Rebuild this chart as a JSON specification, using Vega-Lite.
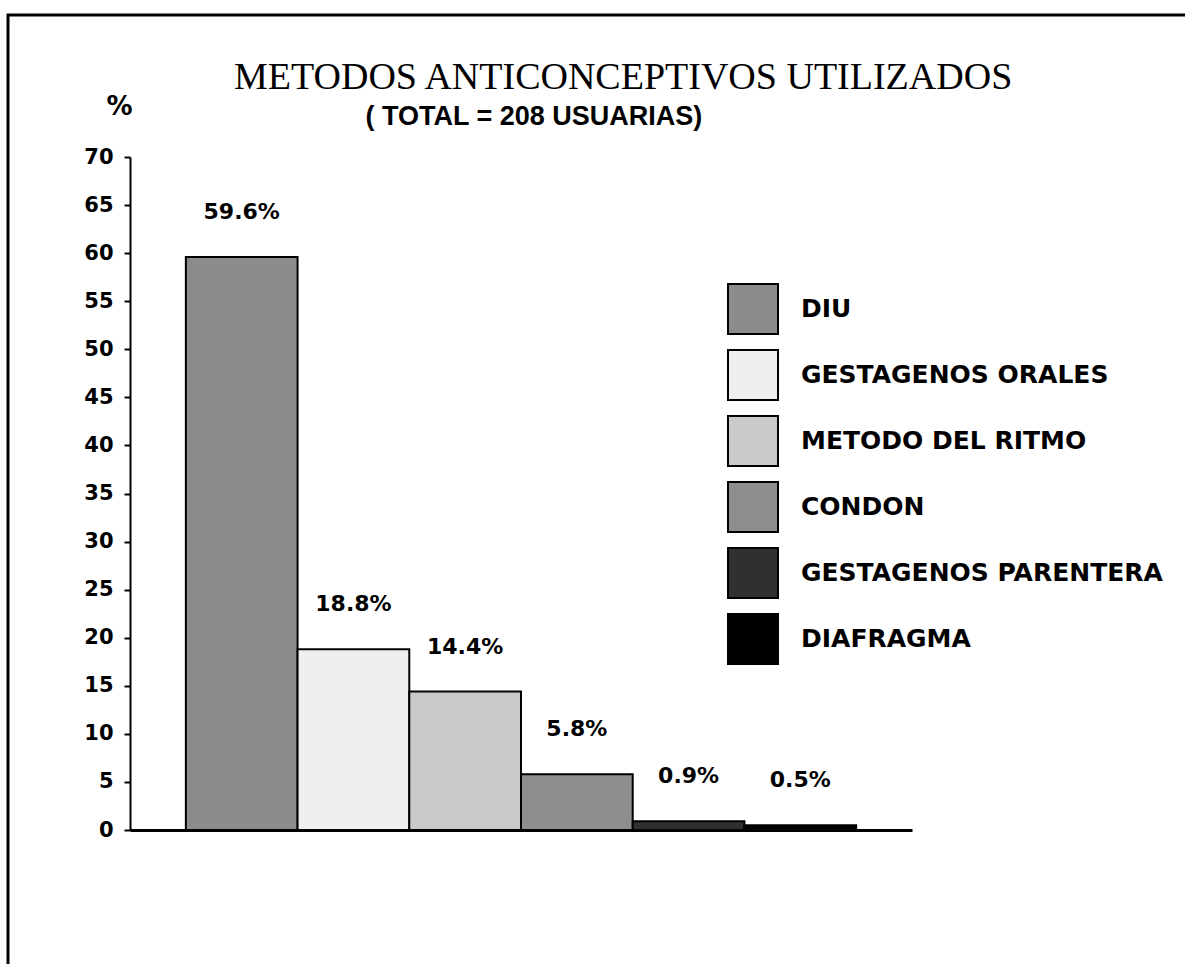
{
  "$schema": "https://vega.github.io/schema/vega-lite/v6.json",
  "width": 782,
  "height": 673,
  "autosize": {"type": "none"},
  "padding": {"left": 130, "top": 157, "right": 273, "bottom": 134},
  "background": "white",
  "title": {
    "text": "METODOS ANTICONCEPTIVOS UTILIZADOS",
    "anchor": "start",
    "frame": "group",
    "dx": 104,
    "offset": -83,
    "font": "Liberation Serif",
    "fontSize": 38,
    "fontWeight": "normal",
    "color": "black"
  },
  "data": {
    "values": [
      {"metodo": "DIU", "pct": 59.6, "label": "59.6%"},
      {"metodo": "GESTAGENOS ORALES", "pct": 18.8, "label": "18.8%"},
      {"metodo": "METODO DEL RITMO", "pct": 14.4, "label": "14.4%"},
      {"metodo": "CONDON", "pct": 5.8, "label": "5.8%"},
      {"metodo": "GESTAGENOS PARENTERA", "pct": 0.9, "label": "0.9%"},
      {"metodo": "DIAFRAGMA", "pct": 0.5, "label": "0.5%"}
    ]
  },
  "encoding": {
    "x": {
      "field": "metodo",
      "type": "nominal",
      "sort": null,
      "scale": {"paddingInner": 0, "paddingOuter": 0.5},
      "axis": {
        "labels": false,
        "ticks": false,
        "domainColor": "black",
        "domainWidth": 3,
        "title": "( TOTAL = 208 USUARIAS)",
        "titleX": 235,
        "titleY": -706,
        "titleAlign": "left",
        "titleBaseline": "alphabetic",
        "titleAnchor": null,
        "titleFont": "Liberation Sans",
        "titleFontSize": 27,
        "titleFontWeight": "bold",
        "titleColor": "black"
      }
    },
    "y": {
      "field": "pct",
      "type": "quantitative",
      "scale": {"domain": [0, 70], "nice": false},
      "axis": {
        "values": [0, 5, 10, 15, 20, 25, 30, 35, 40, 45, 50, 55, 60, 65, 70],
        "grid": false,
        "domainColor": "black",
        "domainWidth": 2,
        "tickColor": "black",
        "tickWidth": 2,
        "tickSize": 6,
        "labelFont": "DejaVu Sans",
        "labelFontWeight": "bold",
        "labelFontSize": 21,
        "labelColor": "black",
        "labelPadding": 11,
        "title": "%",
        "titleAngle": 0,
        "titleX": -11,
        "titleY": -51,
        "titleAlign": "center",
        "titleBaseline": "middle",
        "titleFont": "DejaVu Sans",
        "titleFontWeight": "bold",
        "titleFontSize": 26,
        "titleColor": "black"
      }
    }
  },
  "layer": [
    {
      "mark": {"type": "bar", "stroke": "black", "strokeWidth": 2, "opacity": 1},
      "encoding": {
        "color": {
          "field": "metodo",
          "type": "nominal",
          "sort": null,
          "scale": {
            "domain": ["DIU", "GESTAGENOS ORALES", "METODO DEL RITMO", "CONDON", "GESTAGENOS PARENTERA", "DIAFRAGMA"],
            "range": ["#8c8c8c", "#efefef", "#cacaca", "#8e8e8e", "#303030", "#000000"]
          },
          "legend": {
            "orient": "none",
            "legendX": 597,
            "legendY": 126,
            "title": null,
            "symbolType": "square",
            "symbolSize": 2500,
            "symbolStrokeColor": "black",
            "symbolStrokeWidth": 2,
            "symbolOpacity": 1,
            "labelFont": "DejaVu Sans",
            "labelFontWeight": "bold",
            "labelFontSize": 25,
            "labelColor": "black",
            "labelOffset": 22,
            "rowPadding": 8,
            "labelLimit": 800
          }
        },
        "strokeDash": {
          "datum": " ",
          "type": "nominal",
          "legend": {
            "orient": "none",
            "legendX": -122,
            "legendY": -142,
            "title": null,
            "padding": 680,
            "strokeColor": "black",
            "symbolOpacity": 0,
            "symbolStrokeWidth": 0,
            "labelOpacity": 0,
            "encode": {"legend": {"update": {"strokeWidth": {"value": 3}}}}
          }
        }
      }
    },
    {
      "mark": {"type": "text", "font": "DejaVu Sans", "fontWeight": "bold", "fontSize": 22, "color": "black", "baseline": "alphabetic", "dy": -38},
      "encoding": {"text": {"field": "label"}}
    }
  ],
  "config": {"view": {"stroke": null}, "legend": {"strokeWidth": 3}}
}
